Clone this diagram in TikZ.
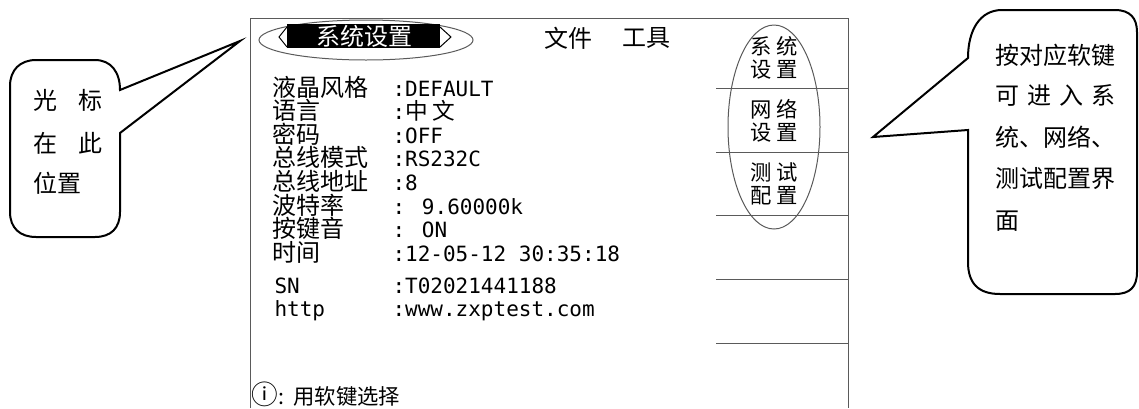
\documentclass[tikz,border=0pt]{standalone}
\usepackage{fontspec}
\setmainfont{Noto Sans CJK SC}
\newfontfamily\cjk{Noto Sans CJK SC}
\newfontfamily\lcd{DejaVu Sans Mono}

\tikzset{every picture/.style={line width=0.75pt}}
\tikzset{
  lbl/.style={anchor=base west, inner sep=0pt, font=\cjk\fontsize{18}{18}\selectfont},
  val/.style={anchor=base west, inner sep=0pt, font=\lcd\fontsize{15.75}{16}\selectfont},
  softkey/.style={align=center, inner sep=0pt, font=\cjk\fontsize{16}{17.25}\selectfont},
  bubtxt/.style={anchor=base west, inner sep=0pt, font=\cjk\fontsize{18}{18}\selectfont},
  bubble/.style={line width=1.5},
  lcdline/.style={draw={rgb, 255:red, 90; green, 90; blue, 90 }}
}

\begin{document}
\begin{tikzpicture}[x=0.75pt,y=0.75pt,yscale=-1,xscale=1]
	\useasboundingbox (0,0) rectangle (1139,408);

	%Shape: Screen frame
	\draw [lcdline]  (250,408) -- (250,18) -- (848,18) -- (848,408) ;
	%Straight Lines soft key separators
	\draw [lcdline]  (716,88) -- (848,88) ;
	\draw [lcdline]  (716,152) -- (848,152) ;
	\draw [lcdline]  (716,215) -- (848,215) ;
	\draw [lcdline]  (716,279) -- (848,279) ;
	\draw [lcdline]  (716,343) -- (848,343) ;

	%Shape: Ellipse round the tab
	\draw [lcdline]  (366,40) ellipse [x radius=107, y radius=20] ;
	%Shape: Rectangle of the tab
	\fill (287,24) rectangle (440,48) ;
	%Straight Lines tab arrows
	\draw    (287,27) -- (279,37) -- (287,47) ;
	\draw    (440,27) -- (451,37) -- (440,47) ;
	%Shape: Ellipse round the soft keys
	\draw [lcdline]  (774,127) ellipse [x radius=46, y radius=102] ;

	% Text Node
	\draw (364,36) node [softkey, font=\cjk\fontsize{18}{18}\selectfont, text=white] (tabsys) {系统设置};
	% Text Node
	\draw (568,38) node [softkey, font=\cjk\fontsize{18}{18}\selectfont] (menufile) {文件};
	% Text Node
	\draw (646,38) node [softkey, font=\cjk\fontsize{18}{18}\selectfont] (menutools) {工具};

	% Text Node
	\draw (774,57.5) node [softkey] (keysys) {系 统\\设 置};
	% Text Node
	\draw (774,121) node [softkey] (keynet) {网 络\\设 置};
	% Text Node
	\draw (774,184) node [softkey] (keytest) {测 试\\配 置};

	% Text Node
	\draw (272,96) node [lbl] (lcdstyle) {液晶风格};
	\draw (392,96) node [val] (lcdstyleval) {:DEFAULT};
	% Text Node
	\draw (272,119.6) node [lbl] (lang) {语言};
	\draw (392,119.6) node [val] (langval) {:{\cjk\fontsize{17}{17}\selectfont 中 文}};
	% Text Node
	\draw (272,143.2) node [lbl] (pwd) {密码};
	\draw (392,143.2) node [val] (pwdval) {:OFF};
	% Text Node
	\draw (272,166.8) node [lbl] (busmode) {总线模式};
	\draw (392,166.8) node [val] (busmodeval) {:RS232C};
	% Text Node
	\draw (272,190.4) node [lbl] (busaddr) {总线地址};
	\draw (392,190.4) node [val] (busaddrval) {:8};
	% Text Node
	\draw (272,214) node [lbl] (baud) {波特率};
	\draw (392,214) node [val] (baudval) {: 9.60000k};
	% Text Node
	\draw (272,237.6) node [lbl] (keytone) {按键音};
	\draw (392,237.6) node [val] (keytoneval) {: ON};
	% Text Node
	\draw (272,261.2) node [lbl] (clock) {时间};
	\draw (392,261.2) node [val] (clockval) {:12-05-12 30:35:18};
	% Text Node
	\draw (274,293) node [val] (sn) {SN};
	\draw (392,293) node [val] (snval) {:T02021441188};
	% Text Node
	\draw (274,316) node [val] (http) {http};
	\draw (392,316) node [val] (httpval) {:www.zxptest.com};
	% Text Node
	\draw (251,404) node [bubtxt, font=\cjk\fontsize{16}{16}\selectfont] (hint) {{\fontsize{20}{20}\selectfont ⓘ}:\hspace{7pt}用软键选择};

	%Shape: Callout left
	\draw [bubble]  (120,133) -- (120,212) .. controls (120,228) and (111,237) .. (95,237) -- (36,237) .. controls (20,237) and (10,228) .. (10,212) -- (10,86) .. controls (10,70) and (20,60) .. (36,60) -- (95,60) .. controls (111,60) and (120,72) .. (120,90) -- (240,41) -- cycle ;
	% Text Node
	\draw (33,109) node [bubtxt] (cursorA) {光\hspace{16pt}标};
	% Text Node
	\draw (33,152) node [bubtxt] (cursorB) {在\hspace{16pt}此};
	% Text Node
	\draw (33,192) node [bubtxt] (cursorC) {位置};

	%Shape: Callout right
	\draw [bubble]  (968,130) -- (968,262) .. controls (968,283) and (978,294) .. (1000,294) -- (1115,294) .. controls (1130,294) and (1137,287) .. (1137,272) -- (1137,32) .. controls (1137,18) and (1130,10) .. (1115,10) -- (1002,10) .. controls (980,10) and (968,30) .. (968,58) -- (873,137) -- cycle ;
	% Text Node
	\draw (995,64) node [bubtxt] (hintA) {按对应软键};
	% Text Node
	\draw (995,104) node [bubtxt] (hintB) {\hbox to 90pt{可\hfil 进\hfil 入\hfil 系}};
	% Text Node
	\draw (995,146) node [bubtxt] (hintC) {统、网络、};
	% Text Node
	\draw (995,187) node [bubtxt] (hintD) {测试配置界};
	% Text Node
	\draw (995,229) node [bubtxt] (hintE) {面};

\end{tikzpicture}
\end{document}
